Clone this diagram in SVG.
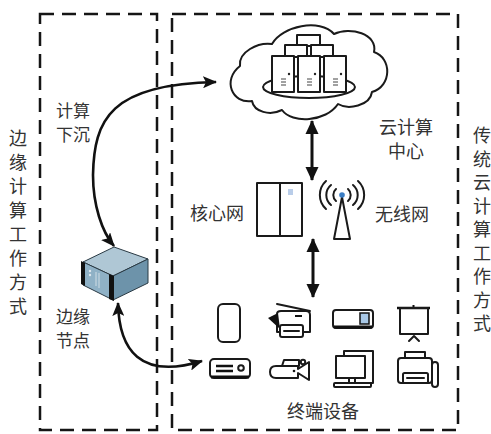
<svg xmlns="http://www.w3.org/2000/svg" width="491" height="434" viewBox="0 0 491 434">
  <style>
    .frame { fill: none; stroke: #151515; stroke-width: 2.5; stroke-dasharray: 14 8; }
    .lbl { font-family: "Noto Sans CJK SC", "Noto Sans", sans-serif; font-size: 18px; fill: #333; text-anchor: middle; }
    .sm { font-size: 17px; }
    .ico { fill: none; stroke: #1a1a1a; stroke-width: 2; stroke-linejoin: round; stroke-linecap: round; }
    .icow { fill: #fff; stroke: #1a1a1a; stroke-width: 2; stroke-linejoin: round; stroke-linecap: round; }
    .link { fill: none; stroke: #111; stroke-width: 2.6; }
    .blink { fill: none; stroke: #111; stroke-width: 3; }
  </style>
  <defs>
    <marker id="ah" viewBox="0 0 14 12" refX="13" refY="6" markerWidth="14" markerHeight="12" markerUnits="userSpaceOnUse" orient="auto-start-reverse">
      <path d="M0,0 L14,6 L0,12 L3,6 Z" fill="#111"/>
    </marker>
    <marker id="ahb" viewBox="0 0 14 13" refX="13" refY="6.5" markerWidth="14" markerHeight="14" markerUnits="userSpaceOnUse" orient="auto-start-reverse">
      <path d="M0,0 L14,6.5 L0,13 Z" fill="#111"/>
    </marker>
  </defs>

  <rect width="491" height="434" fill="#fff"/>

  <!-- dashed frames -->
  <g id="frames">
    <rect class="frame" x="40" y="14" width="117" height="416"/>
    <rect class="frame" x="172" y="14" width="286" height="416"/>
  </g>

  <!-- side captions -->
  <g id="edge-mode">
    <text class="lbl" x="18" y="145">边</text>
    <text class="lbl" x="18" y="169">缘</text>
    <text class="lbl" x="18" y="193">计</text>
    <text class="lbl" x="18" y="217">算</text>
    <text class="lbl" x="18" y="241">工</text>
    <text class="lbl" x="18" y="265">作</text>
    <text class="lbl" x="18" y="289">方</text>
    <text class="lbl" x="18" y="313">式</text>
  </g>
  <g id="cloud-mode">
    <text class="lbl" x="482" y="142">传</text>
    <text class="lbl" x="482" y="165.5">统</text>
    <text class="lbl" x="482" y="189">云</text>
    <text class="lbl" x="482" y="212.5">计</text>
    <text class="lbl" x="482" y="236">算</text>
    <text class="lbl" x="482" y="259.5">工</text>
    <text class="lbl" x="482" y="283">作</text>
    <text class="lbl" x="482" y="306.5">方</text>
    <text class="lbl" x="482" y="330">式</text>
  </g>

  <g id="offload-label">
    <text class="lbl sm" x="73" y="117">计算</text>
    <text class="lbl sm" x="73" y="141">下沉</text>
  </g>

  <!-- cloud data center -->
  <g id="cloud-center">
    <path class="icow" d="M252 101 C232 104 222 80 240 66 C238 52 258 42 272 44 C282 26 320 18 334 34 C350 26 378 34 374 52 C392 58 392 86 372 92 C370 106 348 110 338 104 C326 122 292 124 282 110 C270 116 254 112 252 101 Z"/>
    <ellipse class="ico" cx="309" cy="87" rx="46" ry="11"/>
    <rect class="icow" x="297" y="35" width="23" height="11"/>
    <rect class="icow" x="285" y="45" width="22" height="12"/>
    <rect class="icow" x="311" y="45" width="22" height="12"/>
    <rect class="icow" x="272" y="56" width="22" height="36"/>
    <rect class="icow" x="298" y="56" width="22" height="36"/>
    <rect class="icow" x="324" y="56" width="22" height="36"/>
    <g fill="#222">
      <circle cx="289" cy="74" r="1.2"/>
      <circle cx="315" cy="74" r="1.2"/>
      <circle cx="341" cy="74" r="1.2"/>
    </g>
    <g stroke="#444" stroke-width="1">
      <path d="M281 79h5M281 82h5M281 85h5"/>
      <path d="M307 79h5M307 82h5M307 85h5"/>
      <path d="M333 79h5M333 82h5M333 85h5"/>
    </g>
    <text class="lbl" x="406" y="134">云计算</text>
    <text class="lbl" x="406" y="158">中心</text>
  </g>

  <!-- core network -->
  <g id="core-net">
    <rect class="icow" x="257" y="183" width="45" height="53"/>
    <line class="ico" x1="280" y1="183" x2="280" y2="236"/>
    <rect x="288" y="189" width="5" height="6" fill="#b9cde9"/>
    <text class="lbl" x="217" y="220">核心网</text>
  </g>

  <!-- wireless network -->
  <g id="wireless-net">
    <path class="icow" d="M342 197 L334 239 L350 239 Z"/>
    <g class="ico" stroke-width="2.6">
      <path d="M336 189 A8 8 0 0 0 336 201"/>
      <path d="M348 189 A8 8 0 0 1 348 201"/>
      <path d="M331 185 A13 13 0 0 0 331 205"/>
      <path d="M353 185 A13 13 0 0 1 353 205"/>
      <path d="M326 181 A19 19 0 0 0 326 209"/>
      <path d="M358 181 A19 19 0 0 1 358 209"/>
    </g>
    <circle cx="342" cy="195" r="2.8" fill="#3a7dc4"/>
    <text class="lbl" x="402" y="221">无线网</text>
  </g>

  <!-- edge node -->
  <g id="edge-node">
    <path d="M83 262 L114 247 L148 259 L113 276 Z" fill="#afc7d5" stroke="#2a3a44" stroke-width="1"/>
    <path d="M83 262 L113 276 L113 300 L83 285 Z" fill="#8fb1c6" stroke="#2a3a44" stroke-width="1"/>
    <path d="M113 276 L148 259 L148 283 L113 300 Z" fill="#6d93aa" stroke="#2a3a44" stroke-width="1"/>
    <path d="M81 261 L85 263 L85 286 L81 284 Z" fill="#111"/>
    <path d="M109 274 L114 276 L114 301 L109 299 Z" fill="#111"/>
    <circle cx="90" cy="271" r="1.2" fill="#dfe8ee"/>
    <circle cx="90" cy="275" r="1.2" fill="#dfe8ee"/>
    <path d="M96 272 L96 286 M99 273 L99 288" stroke="#dfe8ee" stroke-width="0.8"/>
    <text class="lbl sm" x="73" y="323">边缘</text>
    <text class="lbl sm" x="73" y="347">节点</text>
  </g>

  <!-- terminal devices -->
  <g id="devices">
    <!-- phone -->
    <rect class="ico" x="218" y="304" width="22" height="38" rx="5"/>
    <!-- scanner -->
    <path class="ico" d="M277 304 L310 311"/>
    <path class="icow" d="M281 311 L306 311 Q310 311 310 315 L310 332 L277 332 L277 314 Q277 311 281 311 Z"/>
    <path d="M295 316 L302 316" stroke="#111" stroke-width="2"/>
    <path d="M268 318 L278 313 L280 329 Z" fill="#111"/>
    <rect class="icow" x="280" y="325" width="23" height="12" rx="2"/>
    <line class="ico" x1="284" y1="331" x2="299" y2="331"/>
    <!-- projector -->
    <rect class="ico" x="333" y="310" width="40" height="18" rx="3"/>
    <path d="M334 327 L372 327" stroke="#111" stroke-width="3"/>
    <rect x="360" y="313" width="9" height="11" fill="#a9c8e6" stroke="#111" stroke-width="1.5"/>
    <!-- projection screen -->
    <path d="M397 308 L430 308" stroke="#111" stroke-width="2.5"/>
    <path d="M413.5 308 L413.5 305" stroke="#111" stroke-width="2"/>
    <rect class="ico" x="400" y="308" width="28" height="26"/>
    <path class="ico" d="M409 341 L414 336 L419 341" stroke-width="2.5"/>
    <!-- media player -->
    <rect class="ico" x="210" y="359" width="40" height="19" rx="4"/>
    <path d="M211 377 L249 377" stroke="#111" stroke-width="3"/>
    <path d="M216 366 L233 366 M216 371 L233 371" stroke="#111" stroke-width="2.4"/>
    <circle class="ico" cx="241" cy="368" r="2.8"/>
    <!-- camcorder -->
    <path class="ico" d="M276 366 L298 366 L298 369 L309 362 L309 380 L298 373 L298 378 L276 378 Q270 378 270 372 Q270 366 276 366 Z"/>
    <path class="ico" d="M282 366 L284 360 L299 360 L299 366"/>
    <circle class="ico" cx="303" cy="362" r="2.2"/>
    <circle cx="294" cy="371" r="1.3" fill="#111"/>
    <!-- desktop computer -->
    <path class="ico" d="M344 356 L344 351 L373 351 L373 383 L366 383"/>
    <rect class="icow" x="336" y="356" width="29" height="22"/>
    <path class="ico" d="M349 378 L349 383 M355 378 L355 383"/>
    <rect class="icow" x="334" y="383" width="37" height="4" rx="1"/>
    <!-- fax -->
    <rect class="icow" x="405" y="352" width="20" height="7"/>
    <rect class="icow" x="398" y="358" width="34" height="25" rx="3"/>
    <rect class="icow" x="403" y="373" width="25" height="10" rx="1.5"/>
    <line class="ico" x1="407" y1="378" x2="424" y2="378"/>
    <rect class="icow" x="432" y="362" width="6" height="25" rx="3"/>
    <text class="lbl" x="323" y="418" font-size="19">终端设备</text>
  </g>

  <!-- connectors -->
  <g id="connectors">
    <path class="link" d="M114 246 C102 232 93 205 93 175 C94 120 110 84 216 82" marker-start="url(#ah)" marker-end="url(#ah)"/>
    <path class="link" d="M118 303 C119 350 140 380 202 361" marker-start="url(#ah)" marker-end="url(#ah)"/>
    <line class="blink" x1="312" y1="121" x2="312" y2="180" marker-start="url(#ahb)" marker-end="url(#ahb)"/>
    <line class="blink" x1="313" y1="239" x2="313" y2="297" marker-start="url(#ahb)" marker-end="url(#ahb)"/>
  </g>
</svg>
